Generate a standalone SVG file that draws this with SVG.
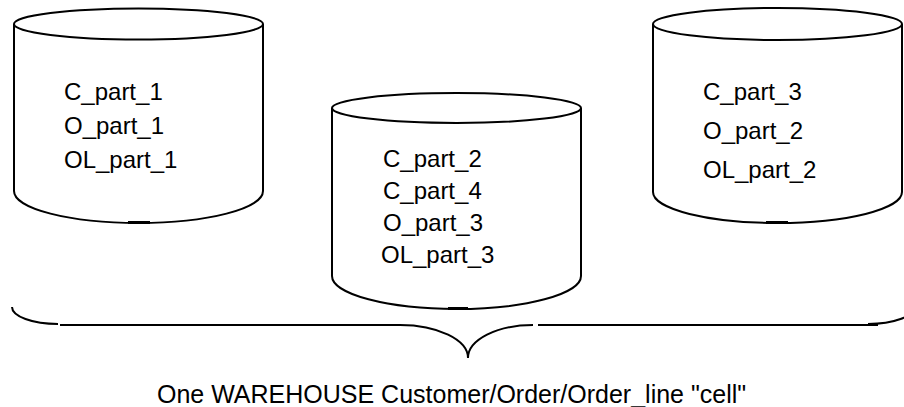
<svg xmlns="http://www.w3.org/2000/svg" width="904" height="407" viewBox="0 0 904 407">
<style>
.s{fill:none;stroke:#000;stroke-width:2}
.k{fill:none;stroke:#000;stroke-width:3}
.t{font-family:"Liberation Sans",Arial,sans-serif;font-size:24px;fill:#000}
</style>
<rect width="904" height="407" fill="#fff"/>
<g id="cyl1">
<ellipse class="s" cx="138.5" cy="24" rx="124.5" ry="15.5"/>
<path class="s" d="M14,24 L14,191 A124.5,32 0 0,0 263,191 L263,24"/>
<path class="k" d="M128,222.5 L150,222.5"/>
<text class="t" x="64" y="100">C_part_1</text>
<text class="t" x="64" y="134">O_part_1</text>
<text class="t" x="64" y="168">OL_part_1</text>
</g>
<g id="cyl2">
<ellipse class="s" cx="456.5" cy="108" rx="124.5" ry="15"/>
<path class="s" d="M332,108 L332,276 A124.5,33 0 0,0 581,276 L581,108"/>
<path class="k" d="M448,308.5 L468,308.5"/>
<text class="t" x="383" y="167">C_part_2</text>
<text class="t" x="383" y="199">C_part_4</text>
<text class="t" x="383" y="231">O_part_3</text>
<text class="t" x="381" y="263">OL_part_3</text>
</g>
<g id="cyl3">
<ellipse class="s" cx="777.5" cy="24" rx="124.5" ry="16"/>
<path class="s" d="M653,24 L653,192 A124.5,31 0 0,0 902,192 L902,24"/>
<path class="k" d="M766,222.5 L788,222.5"/>
<text class="t" x="703" y="100">C_part_3</text>
<text class="t" x="703" y="139">O_part_2</text>
<text class="t" x="703" y="178">OL_part_2</text>
</g>
<g id="connectors">
<path class="s" d="M12,307 A46,17 0 0,0 58,324"/>
<path class="s" d="M60,325 L400,325 A68,33 0 0,1 468,358 A65,33 0 0,1 533,325"/>
<path class="s" d="M538,325 L878,325"/>
<path class="s" d="M868,324 A46,17 0 0,0 914,307"/>
</g>
<g id="caption">
<text class="t" x="157" y="403" style="font-size:25px">One WAREHOUSE Customer/Order/Order_line "cell"</text>
</g>
</svg>
